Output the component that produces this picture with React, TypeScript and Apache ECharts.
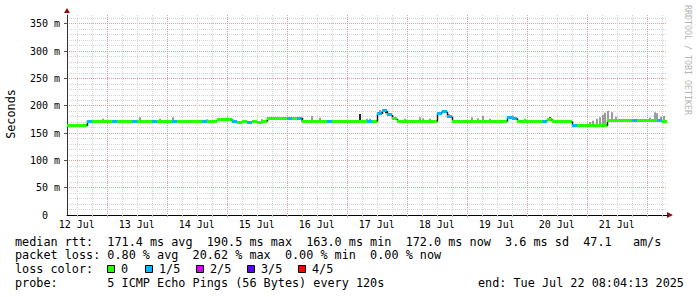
import React, { useEffect, useRef } from 'react';
import * as echarts from 'echarts';

// ---- data ----
// time axis in hours since the graph start (Sat 12 Jul 08:04), 10 days shown
const spanHours = 240;
const firstNoonHour = 3 + 56 / 60; // 12 Jul 12:00
const dayLabels = ['12 Jul', '13 Jul', '14 Jul', '15 Jul', '16 Jul', '17 Jul', '18 Jul', '19 Jul', '20 Jul', '21 Jul'];
const yMajorTicks = [0, 50, 100, 150, 200, 250, 300, 350];
const yMinorTicks = [10, 20, 30, 40, 60, 70, 80, 90, 110, 120, 130, 140, 160, 170, 180, 190, 210, 220, 230, 240, 260, 270, 280, 290, 310, 320, 330, 340, 360];
const yMax = 366;

// median rtt (ms), one value per 2 hours
const binHours = 2;
const medianRtt = [
  163, 163, 163, 163,
  172, 172, 171.5, 172, 172, 171.5, 172, 172, 172, 171.5, 172, 172, 171.5, 172, 172, 172, 171.5, 172, 172, 172, 171.5, 172, 172, 172, 171.5, 172,
  175, 175.5, 175,
  170.5, 170, 170.5, 170, 170.5, 170, 171,
  177.5, 177.5, 177.5, 177.5, 177.5, 177.5, 177.5,
  171, 171, 171.5, 171, 171, 171, 171.5, 171, 171, 171, 171.5, 171, 171, 171, 171,
  185, 190.5, 183, 176,
  171, 171, 171.5, 171, 171, 171, 171.5, 171,
  186, 189, 180,
  171, 171, 171.5, 171, 171, 171, 171.5, 171, 171, 171, 171,
  179, 177,
  171.5, 171.5, 171.5, 171.5, 171.5, 171.5,
  175,
  171.5, 171.5, 171.5, 171.5,
  163, 163, 163, 163, 163, 163, 163,
  173, 173, 172.5, 173, 173, 173, 172.5, 173, 173, 172.5, 172.5, 172,
];
// bins where 1 of 5 pings was lost
const lossOneFifthBins = [4, 9, 13, 17, 21, 27, 33, 36, 44, 46, 52, 60, 62, 63, 64, 74, 75, 76, 88, 89, 95, 101, 113, 118];

// smoke (spread of the pings): hour, upper ping value (ms), shade (0 grey, 1 dark)
const smokeHours = [14.4, 29.2, 37.2, 42.4, 56, 71.2, 78, 94, 98, 101.2, 117.2, 120, 121.2, 124.4, 125.2, 126.4, 127.6, 128.8, 131.2, 135.2, 141.2, 142.4, 145.2, 148.8, 150, 151.6, 152.8, 162, 164.4, 166.4, 169.2, 176.8, 178.4, 179.6, 183.2, 193.2, 209.2, 210.4, 212, 213.2, 214.4, 215.2, 216.4, 218, 219.6, 222.8, 233.2, 235.2, 236, 237.6, 238.8];
const smokeTops = [176, 179, 176, 179, 175, 174, 175, 179, 181, 178, 185, 176, 176, 186, 192, 190, 186, 184, 176, 176, 179, 177, 176, 188, 191, 190, 185, 179, 177, 181, 176, 181, 182, 179, 176, 179, 170, 172.5, 176, 179, 183.5, 187, 191, 188, 180, 176, 178, 188, 186, 180, 181];
const smokeShade = [0, 0, 0, 0, 0, 0, 0, 0, 0, 0, 1, 0, 0, 1, 0, 0, 1, 0, 0, 0, 0, 0, 0, 1, 0, 1, 0, 0, 0, 0, 0, 1, 0, 0, 0, 1, 0, 0, 0, 0, 0, 0, 0, 0, 0, 0, 0, 0, 0, 0, 0];

const lossColors = ['#26ff00', '#00b8ff', '#dd00ff', '#5e00ff', '#ff0000'];
const lossLabels = ['0', '1/5', '2/5', '3/5', '4/5'];

const legendRows = [
  'median rtt:  171.4 ms avg  190.5 ms max  163.0 ms min  172.0 ms now  3.6 ms sd  47.1   am/s',
  'packet loss: 0.80 % avg  20.62 % max  0.00 % min  0.00 % now',
  'loss color:',
  'probe:       5 ICMP Echo Pings (56 Bytes) every 120s',
];
const endText = 'end: Tue Jul 22 08:04:13 2025';
const yTitle = 'Seconds';
const watermark = 'RRDTOOL / TOBI OETIKER';

// ---- derived tick positions ----
const noonX: number[] = dayLabels.map((_, i) => firstNoonHour + 24 * i);
const majorX: number[] = [];
const minorX: number[] = [];
for (let k = 0; firstNoonHour + 6 * k <= spanHours; k++) {
  const v = firstNoonHour + 6 * k;
  if (k % 4 === 2) majorX.push(v);
  else minorX.push(v);
}

const MONO = 'DejaVu Sans Mono';

function buildOption() {
  const lossOf = (i: number) => (lossOneFifthBins.indexOf(i) >= 0 ? 1 : 0);
  const medianData = medianRtt.map((m, i) => [i * binHours, m, lossOf(i), i > 0 ? medianRtt[i - 1] : m]);
  const smokeData = smokeHours.map((h, i) => {
    const bin = Math.min(medianRtt.length - 1, Math.floor(h / binHours));
    return [h, smokeTops[i], medianRtt[bin], smokeShade[i]];
  });

  const rowY = [241.8, 255.4, 269.1, 282.8];
  const graphics: any[] = [];
  legendRows.forEach((t, i) => {
    graphics.push({
      type: 'text', x: 15, y: rowY[i], silent: true,
      style: { text: t, fontFamily: MONO, fontSize: 11.8, fill: '#000', align: 'left', verticalAlign: 'middle' },
    });
  });
  graphics.push({
    type: 'text', x: 478, y: rowY[3], silent: true,
    style: { text: endText, fontFamily: MONO, fontSize: 11.8, fill: '#000', align: 'left', verticalAlign: 'middle' },
  });
  const lossLabelX = [122, 160, 211, 262, 313];
  lossLabels.forEach((l, i) => {
    graphics.push({
      type: 'rect', silent: true,
      shape: { x: lossLabelX[i] - 14.5, y: 265.5, width: 7, height: 7 },
      style: { fill: lossColors[i], stroke: '#000', lineWidth: 1 },
    });
    graphics.push({
      type: 'text', x: lossLabelX[i] - 1, y: rowY[2], silent: true,
      style: { text: l, fontFamily: MONO, fontSize: 11.8, fill: '#000', align: 'left', verticalAlign: 'middle' },
    });
  });
  graphics.push({
    type: 'text', x: 11, y: 114, rotation: Math.PI / 2, silent: true,
    style: { text: yTitle, fontFamily: MONO, fontSize: 11.8, fill: '#000', align: 'center', verticalAlign: 'middle' },
  });
  graphics.push({
    type: 'text', x: 688, y: 60, rotation: -Math.PI / 2, silent: true,
    style: { text: watermark, fontFamily: MONO, fontSize: 8.3, fill: '#b4b4b4', align: 'center', verticalAlign: 'middle' },
  });
  // axis arrows
  graphics.push({ type: 'polygon', silent: true, shape: { points: [[667, 212], [667, 218], [673, 215]] }, style: { fill: '#8b1010' } });
  graphics.push({ type: 'polygon', silent: true, shape: { points: [[64, 13], [70, 13], [67, 8]] }, style: { fill: '#8b1010' } });

  const xLabelFmt = (v: number) => {
    const idx = Math.round((v - firstNoonHour) / 24);
    return dayLabels[idx] ?? '';
  };

  return {
    animation: false,
    backgroundColor: '#ffffff',
    grid: { left: 67, top: 15, width: 600, height: 200, containLabel: false },
    xAxis: [
      {
        type: 'value', min: 0, max: spanHours, position: 'bottom',
        axisLine: { show: true, lineStyle: { color: '#000', width: 1 } },
        axisTick: { show: true, length: 2, customValues: minorX, lineStyle: { color: '#c0c0c0' } },
        axisLabel: { show: false },
        splitLine: { show: true, lineStyle: { color: '#d4d4d4', width: 1, type: [1, 1] } },
      },
      {
        type: 'value', min: 0, max: spanHours, position: 'bottom',
        axisLine: { show: false },
        axisTick: { show: true, length: 2, customValues: majorX, lineStyle: { color: '#d89090' } },
        axisLabel: {
          show: true, customValues: noonX, formatter: xLabelFmt, margin: 4,
          fontFamily: MONO, fontSize: 10, color: '#000',
        },
        splitLine: { show: true, lineStyle: { color: '#e39c9c', width: 1, type: [1, 1] } },
      },
    ],
    yAxis: [
      {
        type: 'value', min: 0, max: yMax, position: 'left',
        axisLine: { show: true, lineStyle: { color: '#333', width: 1 } },
        axisTick: { show: true, length: 3, customValues: yMajorTicks.filter((v) => v > 0), lineStyle: { color: '#555' } },
        axisLabel: {
          show: true, customValues: yMajorTicks, margin: 7,
          fontFamily: MONO, fontSize: 10, color: '#000',
          formatter: (v: number) => (v === 0 ? '{z|0}' : `${v} m`),
          rich: { z: { fontFamily: MONO, fontSize: 10, color: '#000', padding: [0, 12, 0, 0] } },
        },
        splitLine: { show: true, lineStyle: { color: '#e39c9c', width: 1, type: [1, 1] } },
      },
      {
        type: 'value', min: 0, max: yMax, position: 'left',
        axisLine: { show: false },
        axisTick: { show: false, customValues: yMinorTicks },
        axisLabel: { show: false },
        splitLine: { show: true, lineStyle: { color: '#d4d4d4', width: 1, type: [1, 1] } },
      },
    ],
    series: [
      {
        type: 'custom', name: 'smoke', xAxisIndex: 0, yAxisIndex: 0,
        dimensions: ['h', 'top', 'base', 'shade'], encode: { x: 0, y: 1 },
        data: smokeData,
        renderItem: (_p: any, api: any) => {
          const h = api.value(0), top = api.value(1), base = api.value(2), shade = api.value(3);
          const a = api.coord([h, base]);
          const b = api.coord([h, top]);
          return {
            type: 'rect',
            shape: { x: Math.round(a[0]) - 1, y: b[1], width: 2, height: a[1] - b[1] },
            style: { fill: shade ? '#262626' : '#9c9c9c', stroke: null, lineWidth: 0 },
          };
        },
      },
      {
        type: 'custom', name: 'median', xAxisIndex: 0, yAxisIndex: 0,
        dimensions: ['h', 'median', 'loss', 'prev'], encode: { x: 0, y: 1 },
        data: medianData,
        renderItem: (_p: any, api: any) => {
          const h = api.value(0), m = api.value(1), loss = api.value(2), prev = api.value(3);
          const a = api.coord([h, m]);
          const b = api.coord([h + binHours, m]);
          const children: any[] = [];
          if (Math.abs(prev - m) > 1) {
            const c = api.coord([h, prev]);
            children.push({
              type: 'line',
              shape: { x1: Math.round(a[0]) + 0.5, y1: c[1], x2: Math.round(a[0]) + 0.5, y2: a[1] },
              style: { stroke: '#1c1c1c', lineWidth: 1.5, fill: null },
            });
          }
          const y0 = Math.round(a[1] - 1.5);
          children.push({
            type: 'rect',
            shape: { x: Math.round(a[0]), y: y0, width: Math.round(b[0]) - Math.round(a[0]), height: 3 },
            style: { fill: lossColors[loss], stroke: null, lineWidth: 0 },
          });
          return { type: 'group', children };
        },
      },
    ],
    graphic: graphics,
  };
}

export default function App() {
  const ref = useRef<HTMLDivElement>(null);
  useEffect(() => {
    if (!ref.current) return;
    const chart = echarts.init(ref.current, null, { renderer: 'svg' });
    chart.setOption(buildOption() as any);
    return () => chart.dispose();
  }, []);
  return (
    <div
      ref={ref}
      style={{ position: 'absolute', left: 0, top: 0, width: 697, height: 297, background: '#fff' }}
    />
  );
}
